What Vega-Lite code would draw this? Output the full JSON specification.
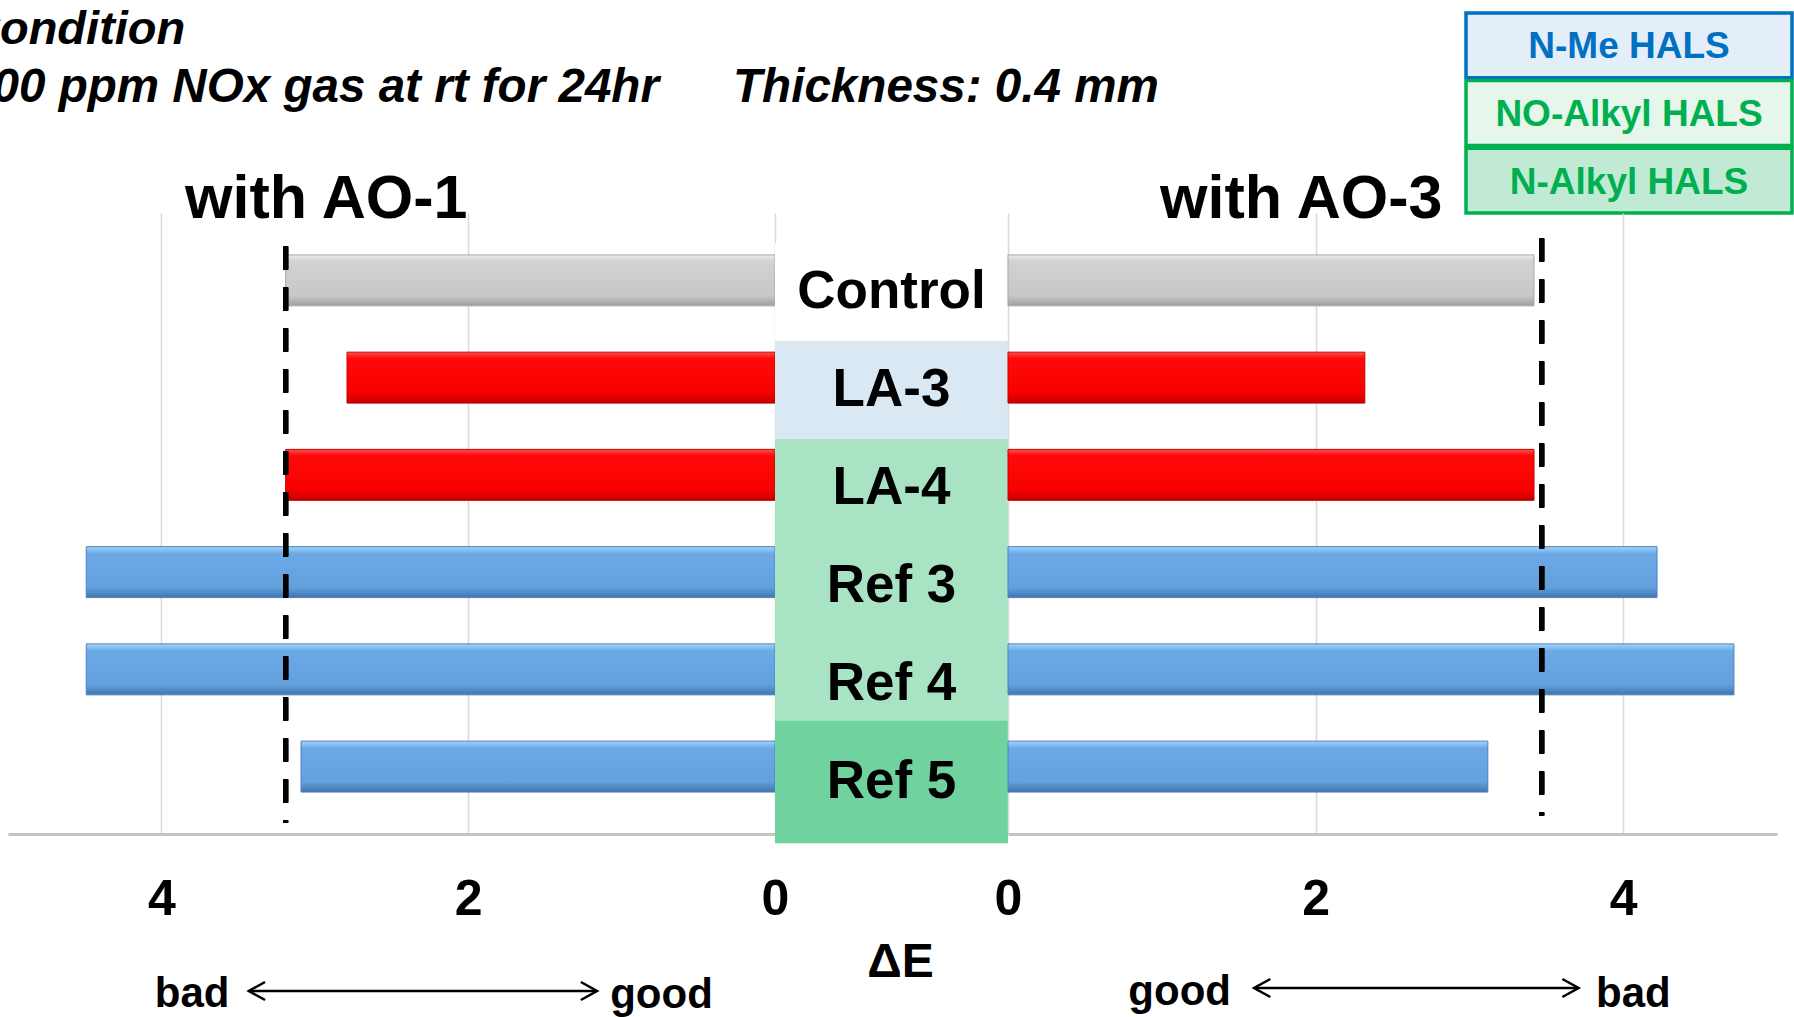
{
  "$schema": "https://vega.github.io/schema/vega-lite/v6.json",
  "background": "white",
  "padding": {"left": -34, "top": 0, "right": 0, "bottom": 0},
  "config": {"view": {"stroke": null}, "font": "Liberation Sans"},
  "datasets": {
    "hals": [
      {"name": "Control", "group": "Control", "type": "None", "ao1": 3.19, "ao3": 3.42},
      {"name": "LA-3", "group": "LA", "type": "N-Me HALS", "ao1": 2.79, "ao3": 2.32},
      {"name": "LA-4", "group": "LA", "type": "NO-Alkyl HALS", "ao1": 3.19, "ao3": 3.42},
      {"name": "Ref 3", "group": "Ref", "type": "NO-Alkyl HALS", "ao1": 4.49, "ao3": 4.22},
      {"name": "Ref 4", "group": "Ref", "type": "NO-Alkyl HALS", "ao1": 4.49, "ao3": 4.72},
      {"name": "Ref 5", "group": "Ref", "type": "N-Alkyl HALS", "ao1": 3.09, "ao3": 3.12}
    ],
    "legend": [
      {"type": "N-Me HALS"},
      {"type": "NO-Alkyl HALS"},
      {"type": "N-Alkyl HALS"}
    ]
  },
  "columns": 3,
  "spacing": 0,
  "align": "each",
  "bounds": "flush",
  "resolve": {"scale": {"fill": "independent", "stroke": "independent", "color": "independent", "x": "independent", "y": "independent"}},
  "concat": [
    {
      "width": 767,
      "height": 213,
      "data": {"values": []},
      "mark": "text",
      "title": {
        "text": "Condition",
        "subtitle": "\u2006200 ppm NOx gas at rt for 24hr\u00a0\u00a0\u00a0\u00a0\u00a0\u2006Thickness: 0.4 mm",
        "anchor": "start",
        "frame": "group",
        "orient": "top",
        "dx": -42,
        "offset": -113,
        "font": "Liberation Sans",
        "fontSize": 47,
        "fontStyle": "italic",
        "fontWeight": "bold",
        "color": "#000000",
        "subtitleFont": "Liberation Sans",
        "subtitleFontSize": 47.6,
        "subtitleFontStyle": "italic",
        "subtitleFontWeight": "bold",
        "subtitleColor": "#000000",
        "subtitlePadding": 10
      }
    },
    {
      "width": 233,
      "height": 213,
      "data": {"values": []},
      "mark": "text"
    },
    {
      "width": 784,
      "height": 213,
      "data": {"name": "legend"},
      "layer": [
        {
          "mark": {"type": "rect", "strokeWidth": 3.5},
          "encoding": {
            "x": {"datum": "HALS type", "type": "nominal", "axis": null,
                  "scale": {"paddingInner": 0, "paddingOuter": 0.7025, "align": 1}},
            "y": {"field": "type", "type": "nominal", "sort": ["N-Me HALS", "NO-Alkyl HALS", "N-Alkyl HALS"], "axis": null,
                  "scale": {"paddingInner": 0.04, "paddingOuter": 0.096, "align": 1}},
            "fill": {"field": "type", "type": "nominal", "legend": null,
                     "scale": {"domain": ["N-Me HALS", "NO-Alkyl HALS", "N-Alkyl HALS"], "range": ["#e3eef9", "#e6f6eb", "#c0ead4"]}},
            "stroke": {"field": "type", "type": "nominal", "legend": null,
                       "scale": {"domain": ["N-Me HALS", "NO-Alkyl HALS", "N-Alkyl HALS"], "range": ["#0070c0", "#00b050", "#00b050"]}}
          }
        },
        {
          "mark": {"type": "text", "fontSize": 37, "fontWeight": "bold", "font": "Liberation Sans", "baseline": "middle", "dy": 2},
          "encoding": {
            "x": {"datum": "HALS type", "type": "nominal", "axis": null},
            "y": {"field": "type", "type": "nominal", "sort": ["N-Me HALS", "NO-Alkyl HALS", "N-Alkyl HALS"], "axis": null},
            "text": {"field": "type"},
            "color": {"field": "type", "type": "nominal", "legend": null,
                      "scale": {"domain": ["N-Me HALS", "NO-Alkyl HALS", "N-Alkyl HALS"], "range": ["#0070c0", "#00b050", "#00b050"]}}
          }
        }
      ]
    },
    {
      "width": 767,
      "height": 621,
      "title": {"text": "with AO-1", "anchor": "start", "frame": "group", "dx": 177, "offset": -18,
                "fontSize": 61, "fontWeight": "bold", "font": "Liberation Sans", "color": "#000000"},
      "data": {"name": "hals"},
      "encoding": {
        "y": {"field": "name", "type": "nominal", "sort": ["Control", "LA-3", "LA-4", "Ref 3", "Ref 4", "Ref 5"], "axis": null,
              "scale": {"paddingInner": 0.476, "paddingOuter": 0.431}},
        "x": {"field": "ao1", "type": "quantitative", "scale": {"domain": [0, 5], "reverse": true, "nice": false},
              "axis": {"values": [0, 2, 4], "format": "d", "title": null, "grid": true, "gridColor": "#d9d9d9", "gridWidth": 1.5,
                       "domainColor": "#c4c4c4", "domainWidth": 3, "ticks": false, "tickSize": 0,
                       "labelFontSize": 50, "labelFontWeight": "bold", "labelFont": "Liberation Sans", "labelColor": "#000000",
                       "labelBaseline": "alphabetic", "labelPadding": 80, "labelFlush": false}}
      },
      "layer": [
        {
          "transform": [{"filter": "datum.group === 'Control'"}],
          "mark": {"type": "bar", "strokeWidth": 1, "stroke": "#a8a8a8",
                   "fill": {"gradient": "linear", "x1": 0, "y1": 0, "x2": 0, "y2": 1,
                            "stops": [{"offset": 0, "color": "#ececec"}, {"offset": 0.12, "color": "#d2d2d2"}, {"offset": 0.8, "color": "#c8c8c8"}, {"offset": 1, "color": "#9e9e9e"}]}}
        },
        {
          "transform": [{"filter": "datum.group === 'LA'"}],
          "mark": {"type": "bar", "strokeWidth": 1, "stroke": "#c80000",
                   "fill": {"gradient": "linear", "x1": 0, "y1": 0, "x2": 0, "y2": 1,
                            "stops": [{"offset": 0, "color": "#ff5050"}, {"offset": 0.12, "color": "#ff0a0a"}, {"offset": 0.8, "color": "#f80000"}, {"offset": 1, "color": "#c00000"}]}}
        },
        {
          "transform": [{"filter": "datum.group === 'Ref'"}],
          "mark": {"type": "bar", "strokeWidth": 1, "stroke": "#4a82c2",
                   "fill": {"gradient": "linear", "x1": 0, "y1": 0, "x2": 0, "y2": 1,
                            "stops": [{"offset": 0, "color": "#a6d4f7"}, {"offset": 0.14, "color": "#6aa9e5"}, {"offset": 0.8, "color": "#62a1dd"}, {"offset": 1, "color": "#4174ad"}]}}
        },
        {
          "mark": {"type": "rule", "strokeDash": [23, 18], "strokeWidth": 5, "color": "#000000", "yOffset": -34, "y2Offset": 56},
          "encoding": {
            "x": {"datum": 3.19, "type": "quantitative"},
            "y": {"datum": "Control", "type": "nominal"},
            "y2": {"datum": "Ref 5"}
          }
        }
      ]
    },
    {
      "width": 233,
      "height": 621,
      "data": {"name": "hals"},
      "layer": [
        {
          "mark": {"type": "rect"},
          "encoding": {
            "y": {"field": "name", "type": "nominal", "sort": ["Control", "LA-3", "LA-4", "Ref 3", "Ref 4", "Ref 5"], "axis": null,
                  "scale": {"paddingInner": 0, "paddingOuter": 0.168, "align": 0.909}},
            "fill": {"field": "type", "type": "nominal", "legend": null,
                     "scale": {"domain": ["None", "N-Me HALS", "NO-Alkyl HALS", "N-Alkyl HALS"], "range": ["#ffffff", "#d9e8f2", "#a8e4c4", "#70d29e"]}}
          }
        },
        {
          "transform": [{"filter": "datum.type === 'N-Alkyl HALS'"}],
          "mark": {"type": "bar", "height": {"band": 1.25}},
          "encoding": {
            "y": {"field": "name", "type": "nominal", "sort": ["Control", "LA-3", "LA-4", "Ref 3", "Ref 4", "Ref 5"], "axis": null},
            "fill": {"field": "type", "type": "nominal", "legend": null}
          }
        },
        {
          "mark": {"type": "text", "fontSize": 53, "fontWeight": "bold", "font": "Liberation Sans", "baseline": "middle", "dy": 0, "color": "#000000"},
          "encoding": {
            "y": {"field": "name", "type": "nominal", "sort": ["Control", "LA-3", "LA-4", "Ref 3", "Ref 4", "Ref 5"], "axis": null},
            "text": {"field": "name"}
          }
        }
      ]
    },
    {
      "width": 769,
      "height": 621,
      "title": {"text": "with AO-3", "anchor": "start", "frame": "group", "dx": 152, "offset": -18,
                "fontSize": 61, "fontWeight": "bold", "font": "Liberation Sans", "color": "#000000"},
      "data": {"name": "hals"},
      "encoding": {
        "y": {"field": "name", "type": "nominal", "sort": ["Control", "LA-3", "LA-4", "Ref 3", "Ref 4", "Ref 5"], "axis": null,
              "scale": {"paddingInner": 0.476, "paddingOuter": 0.431}},
        "x": {"field": "ao3", "type": "quantitative", "scale": {"domain": [0, 5], "nice": false},
              "axis": {"values": [0, 2, 4], "format": "d", "title": null, "grid": true, "gridColor": "#d9d9d9", "gridWidth": 1.5,
                       "domainColor": "#c4c4c4", "domainWidth": 3, "ticks": false, "tickSize": 0,
                       "labelFontSize": 50, "labelFontWeight": "bold", "labelFont": "Liberation Sans", "labelColor": "#000000",
                       "labelBaseline": "alphabetic", "labelPadding": 80, "labelFlush": false}}
      },
      "layer": [
        {
          "transform": [{"filter": "datum.group === 'Control'"}],
          "mark": {"type": "bar", "strokeWidth": 1, "stroke": "#a8a8a8",
                   "fill": {"gradient": "linear", "x1": 0, "y1": 0, "x2": 0, "y2": 1,
                            "stops": [{"offset": 0, "color": "#ececec"}, {"offset": 0.12, "color": "#d2d2d2"}, {"offset": 0.8, "color": "#c8c8c8"}, {"offset": 1, "color": "#9e9e9e"}]}}
        },
        {
          "transform": [{"filter": "datum.group === 'LA'"}],
          "mark": {"type": "bar", "strokeWidth": 1, "stroke": "#c80000",
                   "fill": {"gradient": "linear", "x1": 0, "y1": 0, "x2": 0, "y2": 1,
                            "stops": [{"offset": 0, "color": "#ff5050"}, {"offset": 0.12, "color": "#ff0a0a"}, {"offset": 0.8, "color": "#f80000"}, {"offset": 1, "color": "#c00000"}]}}
        },
        {
          "transform": [{"filter": "datum.group === 'Ref'"}],
          "mark": {"type": "bar", "strokeWidth": 1, "stroke": "#4a82c2",
                   "fill": {"gradient": "linear", "x1": 0, "y1": 0, "x2": 0, "y2": 1,
                            "stops": [{"offset": 0, "color": "#a6d4f7"}, {"offset": 0.14, "color": "#6aa9e5"}, {"offset": 0.8, "color": "#62a1dd"}, {"offset": 1, "color": "#4174ad"}]}}
        },
        {
          "mark": {"type": "rule", "strokeDash": [23, 18], "strokeWidth": 5, "color": "#000000", "yOffset": -42, "y2Offset": 49},
          "encoding": {
            "x": {"datum": 3.47, "type": "quantitative"},
            "y": {"datum": "Control", "type": "nominal"},
            "y2": {"datum": "Ref 5"}
          }
        }
      ]
    },
    {
      "width": 767,
      "height": 183,
      "data": {"values": [{}]},
      "layer": [
        {
          "mark": {"type": "rule", "strokeWidth": 2.5, "color": "#000000", "yOffset": 65.5},
          "encoding": {"x": {"datum": 3.43, "type": "quantitative", "scale": {"domain": [0, 5], "reverse": true, "nice": false}, "axis": null},
                       "x2": {"datum": 1.16}}
        },
        {
          "mark": {"type": "point", "shape": "M1.8,-1L0,0L1.8,1", "size": 324, "filled": false, "strokeWidth": 2.5, "color": "#000000", "opacity": 1, "yOffset": 65.5},
          "encoding": {"x": {"datum": 3.43, "type": "quantitative"}}
        },
        {
          "mark": {"type": "point", "shape": "M-1.8,-1L0,0L-1.8,1", "size": 324, "filled": false, "strokeWidth": 2.5, "color": "#000000", "opacity": 1, "yOffset": 65.5},
          "encoding": {"x": {"datum": 1.16, "type": "quantitative"}}
        },
        {
          "mark": {"type": "text", "text": "bad", "fontSize": 42, "fontWeight": "bold", "font": "Liberation Sans", "baseline": "alphabetic", "dy": 81.5, "color": "#000000"},
          "encoding": {"x": {"datum": 3.8, "type": "quantitative"}}
        },
        {
          "mark": {"type": "text", "text": "good", "fontSize": 42, "fontWeight": "bold", "font": "Liberation Sans", "baseline": "alphabetic", "dy": 82.5, "color": "#000000"},
          "encoding": {"x": {"datum": 0.74, "type": "quantitative"}}
        }
      ]
    },
    {
      "width": 233,
      "height": 183,
      "data": {"values": [{}]},
      "mark": {"type": "text", "text": "ΔE", "fontSize": 48, "fontWeight": "bold", "font": "Liberation Sans", "baseline": "alphabetic", "dy": 51.5, "dx": 9, "color": "#000000"}
    },
    {
      "width": 769,
      "height": 183,
      "data": {"values": [{}]},
      "layer": [
        {
          "mark": {"type": "rule", "strokeWidth": 2.5, "color": "#000000", "yOffset": 62.5},
          "encoding": {"x": {"datum": 1.6, "type": "quantitative", "scale": {"domain": [0, 5], "nice": false}, "axis": null},
                       "x2": {"datum": 3.71}}
        },
        {
          "mark": {"type": "point", "shape": "M1.8,-1L0,0L1.8,1", "size": 324, "filled": false, "strokeWidth": 2.5, "color": "#000000", "opacity": 1, "yOffset": 62.5},
          "encoding": {"x": {"datum": 1.6, "type": "quantitative"}}
        },
        {
          "mark": {"type": "point", "shape": "M-1.8,-1L0,0L-1.8,1", "size": 324, "filled": false, "strokeWidth": 2.5, "color": "#000000", "opacity": 1, "yOffset": 62.5},
          "encoding": {"x": {"datum": 3.71, "type": "quantitative"}}
        },
        {
          "mark": {"type": "text", "text": "good", "fontSize": 42, "fontWeight": "bold", "font": "Liberation Sans", "baseline": "alphabetic", "dy": 79.5, "color": "#000000"},
          "encoding": {"x": {"datum": 1.116, "type": "quantitative"}}
        },
        {
          "mark": {"type": "text", "text": "bad", "fontSize": 42, "fontWeight": "bold", "font": "Liberation Sans", "baseline": "alphabetic", "dy": 81.5, "color": "#000000"},
          "encoding": {"x": {"datum": 4.066, "type": "quantitative"}}
        }
      ]
    }
  ]
}
